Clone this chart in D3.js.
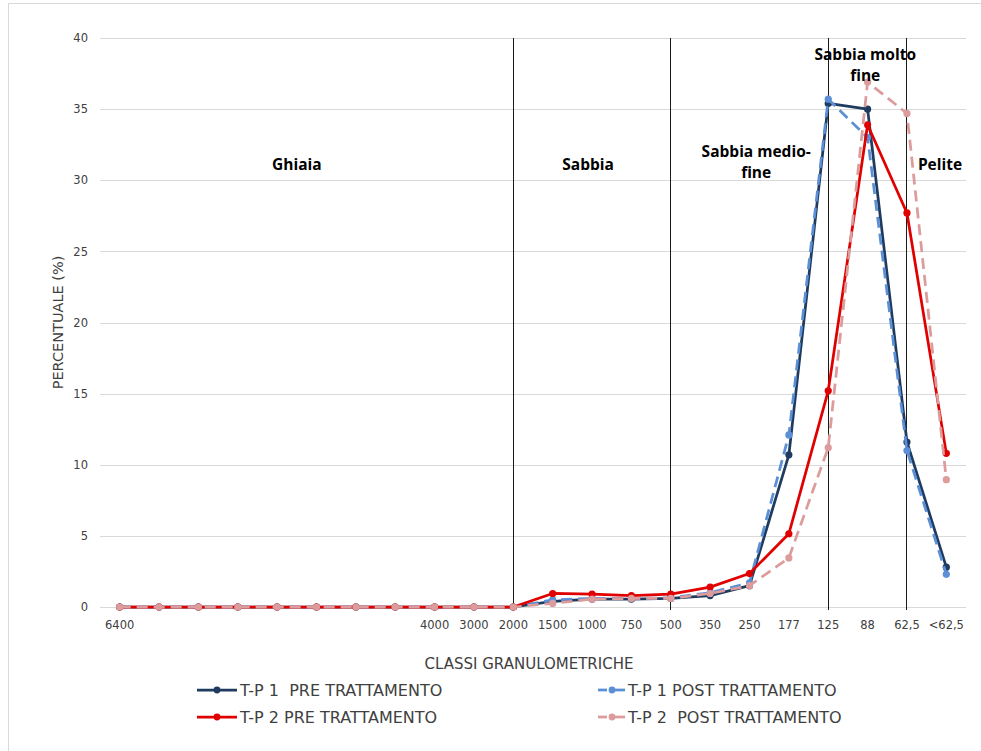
<!DOCTYPE html>
<html>
<head>
<meta charset="utf-8">
<script src="https://cdn.jsdelivr.net/npm/d3@7"></script>
<style>
  body { margin: 0; background: #fff; }
  svg { display: block; }
</style>
</head>
<body>
<svg id="chart" width="981" height="751"></svg>
<script>
// ---- DATA ----
const categories = ["6400", "", "", "", "", "", "", "", "4000", "3000", "2000", "1500", "1000", "750", "500", "350", "250", "177", "125", "88", "62,5", "<62,5"];
const tp1Pre  = [0,0,0,0,0,0,0,0,0,0,0, 0.4, 0.55, 0.55, 0.6, 0.8, 1.5, 10.7, 35.4, 35.0, 11.6, 2.8];
const tp1Post = [0,0,0,0,0,0,0,0,0,0,0, 0.5, 0.6, 0.6, 0.65, 1.0, 1.7, 12.1, 35.7, 33.0, 11.0, 2.3];
const tp2Pre  = [0,0,0,0,0,0,0,0,0,0,0, 0.95, 0.9, 0.8, 0.9, 1.4, 2.35, 5.15, 15.2, 33.9, 27.7, 10.8];
const tp2Post = [0,0,0,0,0,0,0,0,0,0,0, 0.25, 0.55, 0.6, 0.6, 0.95, 1.5, 3.45, 11.2, 36.9, 34.7, 8.95];
const seriesNames = ["T-P 1  PRE TRATTAMENTO", "T-P 1 POST TRATTAMENTO", "T-P 2 PRE TRATTAMENTO", "T-P 2  POST TRATTAMENTO"];
const yTicks = [0, 5, 10, 15, 20, 25, 30, 35, 40];
const boundaryCats = [10, 14, 18, 20]; // 2000, 500, 125, 62,5
const zoneLabels = [
  { lines: ["Ghiaia"], cat: 4.5, val: 30.7 },
  { lines: ["Sabbia"], cat: 11.9, val: 30.7 },
  { lines: ["Sabbia medio-", "fine"], cat: 16.17, val: 31.6 },
  { lines: ["Sabbia molto", "fine"], cat: 18.94, val: 38.45 },
  { lines: ["Pelite"], cat: 20.84, val: 30.7 }
];

// ---- LAYOUT ----
const svg = d3.select("#chart");
const W = 981, H = 751;
const x0 = 100, x1 = 966, yTop = 38, yBot = 607;

const x = d3.scaleBand().domain(d3.range(categories.length)).range([x0, x1]).padding(0);
const cx = i => x(0) + (i + 0.5) * x.bandwidth();
const y = d3.scaleLinear().domain([0, 40]).range([yBot, yTop]);

const labelFont = "'Open Sans', 'DejaVu Sans', sans-serif";
const textFont = "'DejaVu Sans', sans-serif";

// border
svg.append("path").attr("d", `M8.5,${H} V3.5 H${W}`).attr("fill", "none").attr("stroke", "#d9d9d9").attr("stroke-width", 1);

// gridlines
svg.append("g").selectAll("line").data(yTicks).join("line")
  .attr("x1", x0).attr("x2", x1)
  .attr("y1", d => Math.round(y(d)) + 0.5).attr("y2", d => Math.round(y(d)) + 0.5)
  .attr("stroke", "#d9d9d9").attr("stroke-width", 1);

// y axis labels
const yAxis = d3.axisLeft(y).tickValues(yTicks).tickSize(0).tickPadding(12);
const gy = svg.append("g").attr("transform", `translate(${x0},0)`).call(yAxis);
gy.select(".domain").remove();
gy.selectAll("text").attr("font-family", textFont).attr("font-size", 11.5).attr("fill", "#404040");

// x axis labels
const xAxis = d3.axisBottom(x).tickFormat(i => categories[i]).tickSize(0).tickPadding(14);
const gx = svg.append("g").attr("transform", `translate(0,${yBot})`).call(xAxis);
gx.select(".domain").remove();
gx.selectAll("text").attr("font-family", textFont).attr("font-size", 11.5).attr("fill", "#404040");

// boundary vertical lines
svg.append("g").selectAll("line").data(boundaryCats).join("line")
  .attr("x1", d => Math.floor(cx(d)) + 0.5).attr("x2", d => Math.floor(cx(d)) + 0.5)
  .attr("y1", yTop).attr("y2", yBot + 3)
  .attr("stroke", "#1a1a1a").attr("stroke-width", 1);

// series
const series = [
  { name: seriesNames[0], values: tp1Pre,  color: "#1f3b60", dash: null },
  { name: seriesNames[1], values: tp1Post, color: "#5b8fd6", dash: "11,6" },
  { name: seriesNames[2], values: tp2Pre,  color: "#e00000", dash: null },
  { name: seriesNames[3], values: tp2Post, color: "#dd9c9c", dash: "11,6" }
];
const line = d3.line().x((d, i) => cx(i)).y(d => y(d));
series.forEach(s => {
  const g = svg.append("g");
  g.append("path").datum(s.values).attr("d", line)
    .attr("fill", "none").attr("stroke", s.color).attr("stroke-width", 2.75)
    .attr("stroke-dasharray", s.dash).attr("stroke-linejoin", "round");
  g.selectAll("circle").data(s.values).join("circle")
    .attr("cx", (d, i) => cx(i)).attr("cy", d => y(d)).attr("r", 3.6)
    .attr("fill", s.color);
});

// zone labels
zoneLabels.forEach(z => {
  const t = svg.append("text")
    .attr("x", cx(z.cat)).attr("y", y(z.val))
    .attr("text-anchor", "middle").attr("font-family", labelFont)
    .attr("font-weight", "bold").attr("font-size", 15.5).attr("fill", "#000");
  z.lines.forEach((l, j) => t.append("tspan").attr("x", cx(z.cat)).attr("dy", j === 0 ? 0 : 21).text(l));
});

// axis titles
svg.append("text").attr("transform", `translate(63,${(yTop + yBot) / 2}) rotate(-90)`)
  .attr("text-anchor", "middle").attr("font-family", textFont)
  .attr("font-size", 14.5).attr("fill", "#404040").text("PERCENTUALE (%)");
svg.append("text").attr("x", 529).attr("y", 669)
  .attr("text-anchor", "middle").attr("font-family", textFont)
  .attr("font-size", 15).attr("fill", "#404040").text("CLASSI GRANULOMETRICHE");

// legend
const legendPos = [
  { lx: 197, ly: 690 }, { lx: 598, ly: 690 },
  { lx: 197, ly: 717 }, { lx: 598, ly: 717 }
];
series.forEach((s, k) => {
  const p = legendPos[k];
  const g = svg.append("g").attr("transform", `translate(${p.lx},${p.ly})`);
  const len = s.dash ? 27 : 40;
  if (s.dash) {
    g.append("line").attr("x1", 0).attr("x2", 9).attr("y1", 0).attr("y2", 0).attr("stroke", s.color).attr("stroke-width", 2.75);
    g.append("line").attr("x1", 13).attr("x2", len).attr("y1", 0).attr("y2", 0).attr("stroke", s.color).attr("stroke-width", 2.75);
  } else {
    g.append("line").attr("x1", 0).attr("x2", len).attr("y1", 0).attr("y2", 0).attr("stroke", s.color).attr("stroke-width", 2.75);
  }
  g.append("circle").attr("cx", s.dash ? 14 : 20).attr("cy", 0).attr("r", 3.4).attr("fill", s.color);
  g.append("text").attr("x", len + 3).attr("y", 5.5)
    .attr("font-family", textFont)
    .attr("font-size", 16).attr("fill", "#404040").attr("xml:space", "preserve")
    .style("white-space", "pre").text(s.name);
});
</script>
</body>
</html>
